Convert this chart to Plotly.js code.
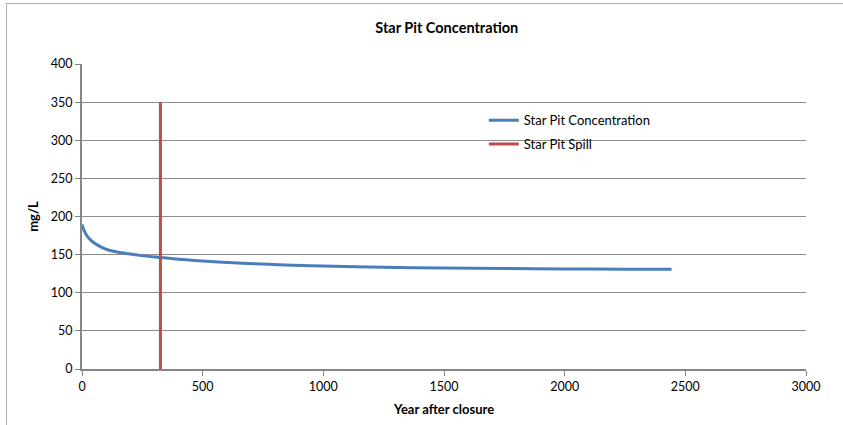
<!DOCTYPE html>
<html>
<head>
<meta charset="utf-8">
<script src="https://cdn.plot.ly/plotly-3.0.1.min.js"></script>
<style>
html,body{margin:0;padding:0;background:#fff;overflow:hidden;}
#wrap{position:relative;width:843px;height:425px;}
#chart{width:843px;height:425px;}
#frame{position:absolute;left:6px;top:3px;width:860px;height:440px;border-left:1.5px solid #b0b0b0;border-top:1.5px solid #b0b0b0;pointer-events:none;}
</style>
</head>
<body>
<div id="wrap"><div id="chart"></div><div id="frame"></div></div>
<script>
// Data
var concYears = [0, 5, 12, 20, 33, 54, 82, 109, 150, 192, 247, 316, 400, 500, 625, 750, 875, 1000, 1250, 1500, 1750, 2000, 2250, 2443];
var concValues = [189.5, 184.5, 179.5, 175, 170, 164.5, 159.5, 156, 153, 151, 148.7, 146.5, 144, 141.5, 139.3, 137.6, 136.1, 135, 133.4, 132.4, 131.7, 131.2, 130.9, 130.8];
var spillYears = [325, 325];
var spillValues = [0, 350];
var xTicks = [0, 500, 1000, 1500, 2000, 2500, 3000];
var yTicks = [0, 50, 100, 150, 200, 250, 300, 350, 400];

var fontFam = 'Lato, "Open Sans", "Liberation Sans", sans-serif';

var traces = [
  {x: concYears, y: concValues, type: 'scatter', mode: 'lines', name: 'Star Pit Concentration',
   line: {color: '#4a7ebb', width: 3, shape: 'spline', smoothing: 0.8}, legendgroup: 'a'},
  {x: spillYears, y: spillValues, type: 'scatter', mode: 'lines', name: 'Star Pit Spill',
   line: {color: '#be4b48', width: 3}, legendgroup: 'b'}
];

var layout = {
  width: 843, height: 425,
  margin: {l: 82, r: 37, t: 64, b: 56},
  paper_bgcolor: '#ffffff', plot_bgcolor: '#ffffff',
  font: {family: fontFam, size: 12, color: '#000'},
  title: {text: '<b>Star Pit Concentration</b>', font: {family: fontFam, size: 14.5, color: '#000'},
          x: 0.53, xanchor: 'center', y: 0.935, yanchor: 'middle'},
  xaxis: {range: [0, 3000], tickvals: xTicks, ticktext: xTicks.map(String),
          showgrid: false, zeroline: false, showline: true, linecolor: '#868686', linewidth: 2,
          ticks: 'outside', ticklen: 5, tickcolor: '#868686', tickfont: {size: 12.5},
          title: {text: '<b>Year after closure</b>', font: {size: 13}, standoff: 12}},
  yaxis: {range: [0, 400], tickvals: yTicks, ticktext: yTicks.map(String),
          showgrid: true, gridcolor: '#8c8c8c', gridwidth: 1, zeroline: false,
          showline: true, linecolor: '#868686', linewidth: 2,
          ticks: 'outside', ticklen: 5, tickcolor: '#868686', tickfont: {size: 12.5},
          title: {text: '<b>mg/L</b>', font: {size: 13}, standoff: 9}},
  showlegend: true,
  legend: {x: 0.555, y: 0.865, xanchor: 'left', yanchor: 'top', bgcolor: 'rgba(0,0,0,0)',
           font: {size: 13}, tracegroupgap: 4}
};

Plotly.newPlot('chart', traces, layout, {displayModeBar: false, staticPlot: true});
</script>
</body>
</html>
